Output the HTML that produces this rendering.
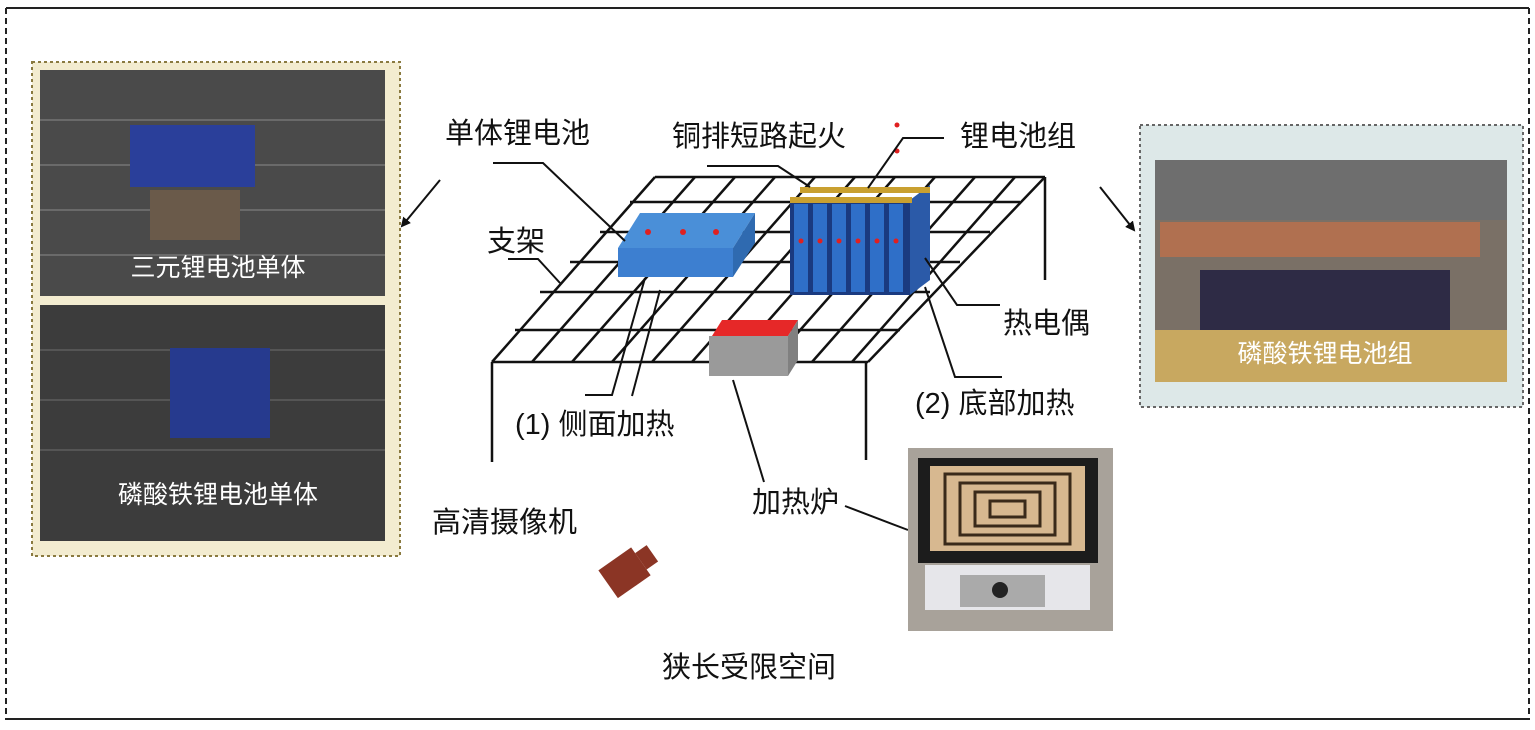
<!DOCTYPE html>
<html><head><meta charset="utf-8"><style>
html,body{margin:0;padding:0;background:#fff;}
svg{display:block;}
text{font-family:"Liberation Sans","Noto Sans CJK SC",sans-serif;}
</style></head><body>
<svg width="1535" height="730" viewBox="0 0 1535 730" xmlns="http://www.w3.org/2000/svg">
<defs>
<marker id="ar" markerWidth="10" markerHeight="10" refX="8" refY="5" orient="auto" markerUnits="userSpaceOnUse"><path d="M0,0 L10,5 L0,10 z" fill="#111"/></marker>
</defs>
<line x1="6" y1="8" x2="1529" y2="8" stroke="#222" stroke-width="2"/>
<line x1="6" y1="8" x2="6" y2="720" stroke="#222" stroke-width="2" stroke-dasharray="6,4"/>
<line x1="1529" y1="8" x2="1529" y2="720" stroke="#222" stroke-width="2" stroke-dasharray="6,4"/>
<line x1="6" y1="719" x2="1529" y2="719" stroke="#222" stroke-width="2"/>

<rect x="32" y="62" width="368" height="494" fill="#f3ecd0" stroke="#8a7a40" stroke-width="2" stroke-dasharray="3,3"/>
<rect x="40" y="70" width="345" height="226" fill="#4a4a4a"/>
<g stroke="#6a6a6a" stroke-width="2">
<line x1="40" y1="120" x2="385" y2="120"/><line x1="40" y1="165" x2="385" y2="165"/><line x1="40" y1="210" x2="385" y2="210"/><line x1="40" y1="255" x2="385" y2="255"/>
</g>
<rect x="130" y="125" width="125" height="62" fill="#2a3f9a"/>
<rect x="150" y="190" width="90" height="50" fill="#6a5a4a"/>
<text x="218" y="276" font-size="25" fill="#fff" text-anchor="middle">三元锂电池单体</text>
<rect x="40" y="305" width="345" height="236" fill="#3c3c3c"/>
<g stroke="#555" stroke-width="2">
<line x1="40" y1="350" x2="385" y2="350"/><line x1="40" y1="400" x2="385" y2="400"/><line x1="40" y1="450" x2="385" y2="450"/>
</g>
<rect x="170" y="348" width="100" height="90" fill="#263a8e"/>
<text x="218" y="503" font-size="25" fill="#fff" text-anchor="middle">磷酸铁锂电池单体</text>

<rect x="1140" y="125" width="383" height="282" fill="#dde8e8" stroke="#666" stroke-width="2" stroke-dasharray="3,3"/>
<rect x="1155" y="160" width="352" height="222" fill="#7a7066"/>
<rect x="1155" y="160" width="352" height="60" fill="#6e6e6e"/>
<rect x="1160" y="222" width="320" height="35" fill="#b07050"/>
<rect x="1200" y="270" width="250" height="60" fill="#2e2b45"/>
<rect x="1155" y="330" width="352" height="52" fill="#c8a860"/>
<text x="1325" y="362" font-size="25" fill="#fff" text-anchor="middle">磷酸铁锂电池组</text>

<line x1="440" y1="180" x2="402" y2="226" stroke="#111" stroke-width="2" marker-end="url(#ar)"/>
<line x1="1100" y1="187" x2="1134" y2="230" stroke="#111" stroke-width="2" marker-end="url(#ar)"/>

<g stroke="#111" stroke-width="2.5" fill="none">
<line x1="655" y1="177" x2="1045" y2="177"/>
<line x1="630" y1="202" x2="1020" y2="202"/>
<line x1="600" y1="232" x2="990" y2="232"/>
<line x1="570" y1="262" x2="960" y2="262"/>
<line x1="540" y1="292" x2="930" y2="292"/>
<line x1="515" y1="330" x2="900" y2="330"/>
<line x1="492" y1="362" x2="868" y2="362"/>
<line x1="655" y1="177" x2="492" y2="362"/>
<line x1="695" y1="177" x2="532" y2="362"/>
<line x1="735" y1="177" x2="572" y2="362"/>
<line x1="775" y1="177" x2="612" y2="362"/>
<line x1="815" y1="177" x2="652" y2="362"/>
<line x1="855" y1="177" x2="692" y2="362"/>
<line x1="895" y1="177" x2="732" y2="362"/>
<line x1="935" y1="177" x2="772" y2="362"/>
<line x1="975" y1="177" x2="812" y2="362"/>
<line x1="1015" y1="177" x2="852" y2="362"/>
<line x1="1045" y1="177" x2="868" y2="362"/>
<line x1="1045" y1="177" x2="1045" y2="280"/>
<line x1="492" y1="362" x2="492" y2="462"/>
<line x1="866" y1="362" x2="866" y2="460"/>
</g>

<polygon points="618,248 640,213 755,213 733,248" fill="#4a8fd8"/>
<polygon points="733,248 755,213 755,243 733,277" fill="#2f6ab0"/>
<rect x="618" y="248" width="115" height="29" fill="#3d7fd0"/>
<circle cx="648" cy="232" r="3" fill="#e02020"/><circle cx="683" cy="232" r="3" fill="#e02020"/><circle cx="716" cy="232" r="3" fill="#e02020"/>

<rect x="790" y="200" width="120" height="95" fill="#1a3a80"/>
<polygon points="910,200 930,185 930,280 910,295" fill="#2b5aa8"/>
<g fill="#2f6fc8">
<rect x="794" y="204" width="14" height="88"/><rect x="813" y="204" width="14" height="88"/><rect x="832" y="204" width="14" height="88"/><rect x="851" y="204" width="14" height="88"/><rect x="870" y="204" width="14" height="88"/><rect x="889" y="204" width="14" height="88"/>
</g>
<rect x="800" y="187" width="130" height="6" fill="#c9a030"/>
<rect x="790" y="197" width="122" height="6" fill="#c9a030"/>
<g fill="#e02020"><circle cx="801" cy="241" r="2.5"/><circle cx="820" cy="241" r="2.5"/><circle cx="839" cy="241" r="2.5"/><circle cx="858" cy="241" r="2.5"/><circle cx="877" cy="241" r="2.5"/><circle cx="896" cy="241" r="2.5"/><circle cx="897" cy="125" r="2.5"/><circle cx="897" cy="151" r="2.5"/></g>

<polygon points="712,336 722,320 798,320 788,336" fill="#e62828"/>
<polygon points="788,336 798,320 798,360 788,376" fill="#808080"/>
<rect x="709" y="336" width="79" height="40" fill="#9a9a9a"/>

<g stroke="#111" stroke-width="2" fill="none">
<polyline points="493,163 543,163 625,241"/>
<polyline points="508,259 538,259 560,283"/>
<polyline points="707,166 778,166 810,187"/>
<polyline points="944,138 903,138 868,188"/>
<polyline points="1000,305 957,305 925,258"/>
<polyline points="1002,377 955,377 925,287"/>
<polyline points="585,395 612,395 645,278"/>
<polyline points="632,396 660,290"/>
<line x1="733" y1="380" x2="764" y2="482"/>
<line x1="845" y1="506" x2="908" y2="530"/>
</g>

<g font-size="29" fill="#111">
<text x="445" y="143">单体锂电池</text>
<text x="672" y="146">铜排短路起火</text>
<text x="960" y="146">锂电池组</text>
<text x="487" y="251">支架</text>
<text x="1003" y="333">热电偶</text>
<text x="915" y="413">(2) 底部加热</text>
<text x="515" y="434">(1) 侧面加热</text>
<text x="752" y="512">加热炉</text>
<text x="432" y="532">高清摄像机</text>
<text x="662" y="677">狭长受限空间</text>
</g>

<g transform="rotate(-35 625 570)">
<rect x="603" y="555" width="40" height="34" fill="#8b3525"/>
<rect x="643" y="562" width="14" height="20" fill="#8b3525"/>
</g>

<rect x="908" y="448" width="205" height="183" fill="#a8a29a"/>
<rect x="918" y="458" width="180" height="105" fill="#1c1c1c"/>
<rect x="930" y="466" width="155" height="85" fill="#d7b890"/>
<g fill="none" stroke="#3a2a1a" stroke-width="3">
<rect x="945" y="474" width="125" height="70"/><rect x="960" y="483" width="95" height="52"/><rect x="975" y="492" width="65" height="34"/><rect x="990" y="501" width="35" height="16"/>
</g>
<rect x="925" y="565" width="165" height="45" fill="#e6e6ea"/>
<rect x="960" y="575" width="85" height="32" fill="#aaa"/>
<circle cx="1000" cy="590" r="8" fill="#222"/>
</svg>
</body></html>
